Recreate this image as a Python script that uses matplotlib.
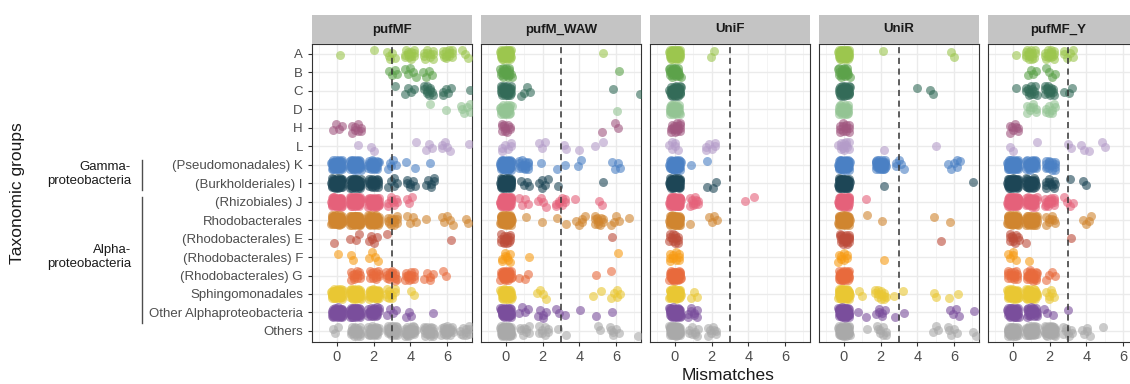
import numpy as np
import matplotlib.pyplot as plt

plt.rcParams['font.family'] = ['Liberation Sans', 'DejaVu Sans']

# categories, top to bottom
groups = ['A', 'B', 'C', 'D', 'H', 'L',
          '(Pseudomonadales) K', '(Burkholderiales) I', '(Rhizobiales) J',
          'Rhodobacterales', '(Rhodobacterales) E', '(Rhodobacterales) F',
          '(Rhodobacterales) G', 'Sphingomonadales',
          'Other Alphaproteobacteria', 'Others']
colours = ['#9cc64e', '#5ca24a', '#336b58', '#93c493', '#a0567f', '#b49cc9',
           '#4a80c4', '#1d4656', '#e5617a', '#d0852f', '#bd4c3a', '#f79b14',
           '#e86a3c', '#e9c733', '#7a4e9c', '#a9a9a9']

facets = ['pufMF', 'pufM_WAW', 'UniF', 'UniR', 'pufMF_Y']
mismatch = [0, 1, 2, 3, 4, 5, 6, 7]

# number of sequences with 0..7 mismatches, one row per group
pufMF = [
    [1, 0, 1, 5, 12, 10, 12, 3],
    [0, 0, 0, 4, 5, 4, 0, 0],
    [0, 0, 0, 1, 4, 10, 5, 1],
    [0, 0, 0, 0, 0, 1, 1, 6],
    [4, 8, 0, 0, 0, 0, 0, 0],
    [0, 1, 2, 0, 1, 3, 5, 1],
    [45, 45, 25, 5, 2, 1, 0, 0],
    [45, 40, 20, 5, 6, 6, 0, 0],
    [45, 45, 40, 8, 3, 0, 0, 0],
    [50, 55, 45, 12, 4, 1, 5, 2],
    [1, 3, 5, 1, 0, 0, 1, 0],
    [1, 2, 4, 0, 0, 0, 0, 0],
    [0, 12, 12, 14, 12, 5, 2, 0],
    [45, 45, 35, 10, 2, 0, 0, 0],
    [40, 40, 25, 4, 3, 1, 0, 0],
    [3, 20, 25, 25, 25, 20, 20, 10],
]
pufM_WAW = [
    [40, 0, 0, 0, 0, 1, 0, 0],
    [20, 0, 0, 0, 0, 0, 1, 0],
    [30, 4, 0, 0, 0, 0, 1, 1],
    [25, 0, 0, 0, 0, 0, 1, 0],
    [10, 0, 0, 0, 0, 1, 2, 0],
    [6, 0, 3, 2, 1, 2, 0, 0],
    [60, 15, 1, 2, 2, 0, 4, 0],
    [60, 4, 5, 1, 0, 1, 0, 0],
    [60, 4, 4, 8, 1, 2, 0, 0],
    [60, 1, 1, 2, 5, 10, 4, 1],
    [15, 0, 0, 0, 0, 0, 1, 0],
    [8, 1, 0, 0, 0, 0, 1, 0],
    [30, 3, 0, 0, 0, 1, 1, 0],
    [40, 0, 4, 0, 0, 2, 5, 0],
    [40, 4, 5, 3, 1, 1, 1, 0],
    [60, 8, 8, 2, 0, 2, 6, 1],
]
UniF = [
    [45, 0, 2, 0, 0, 0, 0, 0],
    [25, 0, 0, 0, 0, 0, 0, 0],
    [35, 0, 0, 0, 0, 0, 0, 0],
    [30, 0, 0, 0, 0, 0, 0, 0],
    [15, 0, 0, 0, 0, 0, 0, 0],
    [6, 0, 6, 0, 0, 0, 0, 0],
    [50, 1, 1, 0, 0, 0, 0, 0],
    [60, 0, 3, 0, 0, 0, 0, 0],
    [60, 10, 0, 0, 2, 0, 0, 0],
    [55, 1, 4, 0, 0, 0, 0, 0],
    [12, 0, 0, 0, 0, 0, 0, 0],
    [10, 0, 0, 0, 0, 0, 0, 0],
    [40, 0, 0, 0, 0, 0, 0, 0],
    [45, 3, 0, 0, 0, 0, 0, 0],
    [50, 8, 0, 0, 0, 0, 0, 0],
    [55, 8, 8, 0, 0, 0, 0, 0],
]
UniR = [
    [45, 0, 1, 0, 0, 0, 2, 0],
    [20, 0, 0, 0, 0, 0, 0, 0],
    [35, 0, 0, 0, 1, 2, 0, 0],
    [25, 0, 0, 0, 0, 0, 0, 0],
    [12, 0, 0, 0, 0, 0, 0, 0],
    [12, 0, 1, 0, 0, 1, 0, 0],
    [55, 0, 35, 5, 0, 0, 6, 0],
    [60, 0, 1, 0, 0, 0, 0, 1],
    [55, 1, 0, 0, 0, 0, 0, 0],
    [60, 1, 1, 0, 0, 1, 1, 0],
    [20, 0, 0, 0, 0, 1, 0, 0],
    [8, 0, 1, 0, 0, 0, 0, 0],
    [35, 0, 0, 0, 0, 0, 0, 0],
    [55, 2, 12, 2, 0, 2, 2, 0],
    [55, 2, 6, 2, 0, 0, 4, 1],
    [55, 1, 8, 0, 0, 3, 5, 2],
]
pufMF_Y = [
    [1, 15, 15, 6, 0, 0, 0, 0],
    [0, 4, 4, 0, 0, 0, 0, 0],
    [1, 12, 14, 3, 0, 0, 0, 0],
    [0, 8, 8, 0, 0, 0, 0, 0],
    [8, 0, 0, 0, 0, 0, 0, 0],
    [2, 1, 0, 2, 3, 2, 0, 0],
    [50, 30, 15, 0, 0, 0, 0, 0],
    [50, 30, 10, 1, 2, 0, 0, 0],
    [50, 30, 15, 4, 0, 0, 0, 0],
    [55, 40, 8, 0, 4, 0, 0, 0],
    [10, 1, 0, 1, 0, 0, 0, 0],
    [5, 1, 0, 0, 0, 0, 0, 0],
    [15, 20, 4, 0, 0, 0, 0, 0],
    [45, 40, 6, 0, 0, 0, 0, 0],
    [40, 25, 3, 1, 0, 0, 0, 0],
    [35, 35, 35, 8, 5, 1, 0, 0],
]
facet_counts = [pufMF, pufM_WAW, UniF, UniR, pufMF_Y]
cutoff = 3

W, H = 1130, 384


def box(left, right, top, bottom):
    # pixel box -> figure coords
    return [left / W, 1 - bottom / H, (right - left) / W, (bottom - top) / H]


def jitter(n, start):
    # evenly spread offsets in [-0.5, 0.5) (R2 sequence) instead of random jitter
    k = np.arange(start, start + n) + 1
    g = 1.32471795724
    return (k / g) % 1 - 0.5, (k / g ** 2) % 1 - 0.5


fig = plt.figure(figsize=(W / 100, H / 100), dpi=100)

lefts = [312, 481, 650, 819, 988]
for p, (name, counts) in enumerate(zip(facets, facet_counts)):
    l = lefts[p]
    ax = fig.add_axes(box(l, l + 160, 44, 342))
    start = 0
    for i, row in enumerate(counts):
        for m, n in zip(mismatch, row):
            if n == 0:
                continue
            u, v = jitter(n, start)
            start += n
            ax.scatter(m + 0.62 * u, i + 0.55 * v, s=42, color=colours[i],
                       alpha=0.6, linewidths=0, zorder=3)
    ax.axvline(cutoff, color='#333333', lw=1.1, ls=(0, (4, 3)), zorder=4)

    ax.set_xlim(-1.36, 7.36)
    ax.set_ylim(15.6, -0.54)
    ax.set_xticks([0, 2, 4, 6])
    ax.set_xticks([-1, 1, 3, 5, 7], minor=True)
    ax.set_yticks(range(len(groups)))
    ax.grid(which='major', color='#ebebeb', lw=1.0, zorder=0)
    ax.grid(which='minor', axis='x', color='#f2f2f2', lw=0.6, zorder=0)
    ax.set_axisbelow(True)
    for s in ax.spines.values():
        s.set_color('#333333')
        s.set_linewidth(0.8)
    ax.tick_params(which='minor', length=0)
    ax.tick_params(which='major', length=3, color='#333333',
                   labelcolor='#4d4d4d', labelsize=9.5, width=0.8)
    ax.tick_params(axis='x', labelsize=10.5, pad=2.5)
    if p == 0:
        ax.set_yticklabels(groups)
    else:
        ax.set_yticklabels([])
        ax.tick_params(axis='y', length=0)

    # facet strip
    st = fig.add_axes(box(l, l + 160, 15, 44))
    st.set_facecolor('#c4c4c4')
    st.set_xticks([])
    st.set_yticks([])
    for s in st.spines.values():
        s.set_visible(False)
    # label centred on the visible part of the strip
    mid = (l + min(l + 160, W - 2)) / 2
    fig.text(mid / W, 1 - 29.5 / H, name, ha='center', va='center',
             fontsize=9.5, fontweight='bold', color='#1a1a1a')

# group brackets on the left
fig.add_artist(plt.Line2D([142 / W, 142 / W], [1 - 160 / H, 1 - 190 / H],
                          color='#4d4d4d', lw=1))
fig.add_artist(plt.Line2D([142 / W, 142 / W], [1 - 197 / H, 1 - 323 / H],
                          color='#4d4d4d', lw=1))
fig.text(131 / W, 1 - 174 / H, 'Gamma-\nproteobacteria', ha='right',
         va='center', fontsize=9.5, color='#1a1a1a', linespacing=1.3)
fig.text(131 / W, 1 - 257 / H, 'Alpha-\nproteobacteria', ha='right',
         va='center', fontsize=9.5, color='#1a1a1a', linespacing=1.3)

fig.text(18 / W, 1 - 193 / H, 'Taxonomic groups', rotation=90, ha='center',
         va='center', fontsize=12.5, color='#1a1a1a')
fig.text(728 / W, 1 - 376 / H, 'Mismatches', ha='center', va='center',
         fontsize=12.5, color='#1a1a1a')

fig.savefig('out.png', dpi=100)
